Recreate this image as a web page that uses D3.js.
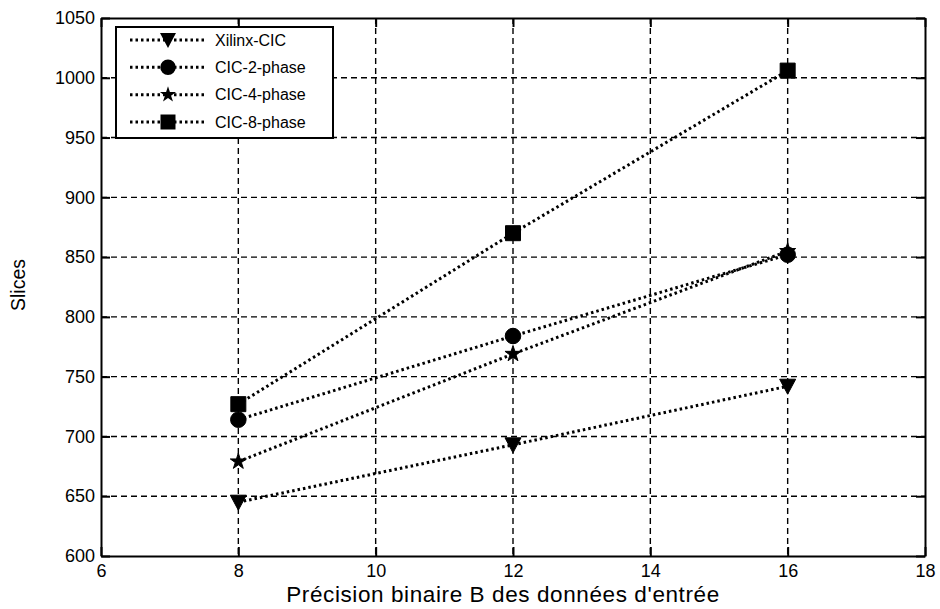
<!DOCTYPE html>
<html>
<head>
<meta charset="utf-8">
<script src="https://cdn.jsdelivr.net/npm/d3@7"></script>
<style>
  html, body { margin: 0; padding: 0; background: #fff; }
  svg { display: block; font-family: "Liberation Sans", Arial, sans-serif; }
</style>
</head>
<body>
<svg id="chart" width="940" height="609"></svg>
<script>
// Input precision B (bits)
const precision = [8, 12, 16];

// Slices used by each implementation
const seriesNames = ["Xilinx-CIC", "CIC-2-phase", "CIC-4-phase", "CIC-8-phase"];
const xilinxCIC = [645, 693, 742];
const cic2phase = [714, 784, 852];
const cic4phase = [679, 769, 855];
const cic8phase = [727, 870, 1006];

// Axis ticks
const xTicks = [6, 8, 10, 12, 14, 16, 18];
const yTicks = [600, 650, 700, 750, 800, 850, 900, 950, 1000, 1050];

const xLabel = "Précision binaire B des données d'entrée";
const yLabel = "Slices";

const series = [
  { name: seriesNames[0], values: xilinxCIC, marker: "triangle" },
  { name: seriesNames[1], values: cic2phase, marker: "circle" },
  { name: seriesNames[2], values: cic4phase, marker: "star" },
  { name: seriesNames[3], values: cic8phase, marker: "square" }
];

const svg = d3.select("#chart");
const L = 101, R = 925, T = 18, B = 556;

const x = d3.scaleLinear().domain([6, 18]).range([L, R]);
const y = d3.scaleLinear().domain([600, 1050]).range([B, T]);

// dashed grid
const grid = svg.append("g").attr("stroke", "#000").attr("stroke-width", 1.4)
  .attr("stroke-dasharray", "6,4");
grid.selectAll(".gx").data(xTicks.slice(1, -1)).join("line")
  .attr("x1", d => x(d)).attr("x2", d => x(d)).attr("y1", T).attr("y2", B);
grid.selectAll(".gy").data(yTicks.slice(1, -1)).join("line")
  .attr("y1", d => y(d)).attr("y2", d => y(d)).attr("x1", L).attr("x2", R);

// axes with inward ticks (box on all four sides)
const tickLen = 9;
const fmt = d3.format("d");
const axB = svg.append("g").attr("transform", `translate(0,${B})`)
  .call(d3.axisBottom(x).tickValues(xTicks).tickFormat(fmt).tickSizeInner(-tickLen).tickSizeOuter(0).tickPadding(8));
const axT = svg.append("g").attr("transform", `translate(0,${T})`)
  .call(d3.axisTop(x).tickValues(xTicks).tickFormat("").tickSizeInner(-tickLen).tickSizeOuter(0));
const axL = svg.append("g").attr("transform", `translate(${L},0)`)
  .call(d3.axisLeft(y).tickValues(yTicks).tickFormat(fmt).tickSizeInner(-tickLen).tickSizeOuter(0).tickPadding(6));
const axR = svg.append("g").attr("transform", `translate(${R},0)`)
  .call(d3.axisRight(y).tickValues(yTicks).tickFormat("").tickSizeInner(-tickLen).tickSizeOuter(0));

[axB, axT, axL, axR].forEach(a => {
  a.select(".domain").attr("stroke", "#000").attr("stroke-width", 2);
  a.selectAll(".tick line").attr("stroke", "#000").attr("stroke-width", 2);
  a.selectAll("text").attr("fill", "#000").attr("font-size", 18)
    .attr("font-family", "'Liberation Sans', Arial, sans-serif");
});

// axis titles
svg.append("text").attr("x", (L + R) / 2 - 10).attr("y", 602)
  .attr("text-anchor", "middle").attr("font-size", 22.5)
  .attr("letter-spacing", "0.6px").text(xLabel);
svg.append("text").attr("transform", `translate(25,${(T + B) / 2 - 2}) rotate(-90)`)
  .attr("text-anchor", "middle").attr("font-size", 19.5).text(yLabel);

// marker shapes
function markerPath(kind) {
  if (kind === "triangle") return "M-8,-7L8,-7L0,8Z";
  if (kind === "circle") return d3.symbol(d3.symbolCircle, 190)();
  if (kind === "star") return d3.symbol(d3.symbolStar, 80)();
  return "M-7.5,-7.5L7.5,-7.5L7.5,7.5L-7.5,7.5Z";
}

const line = d3.line().x((d, i) => x(precision[i])).y(d => y(d));
const plot = svg.append("g");
series.forEach(s => {
  plot.append("path").datum(s.values).attr("d", line)
    .attr("fill", "none").attr("stroke", "#000").attr("stroke-width", 3)
    .attr("stroke-dasharray", "2.5,3");
  plot.selectAll(null).data(s.values).join("path")
    .attr("transform", (d, i) => `translate(${x(precision[i])},${y(d)})`)
    .attr("d", markerPath(s.marker)).attr("fill", "#000").attr("stroke", "#000");
});

// legend
const lg = svg.append("g");
const lgX = 116, lgY = 27, lgW = 217, lgH = 111;
lg.append("rect").attr("x", lgX).attr("y", lgY).attr("width", lgW).attr("height", lgH)
  .attr("fill", "#fff").attr("stroke", "#000").attr("stroke-width", 2);
const rowY = d3.scalePoint().domain(seriesNames).range([40, 122]);
series.forEach(s => {
  const ry = rowY(s.name);
  lg.append("line").attr("x1", 130).attr("x2", 205).attr("y1", ry).attr("y2", ry)
    .attr("stroke", "#000").attr("stroke-width", 3).attr("stroke-dasharray", "2.5,3");
  lg.append("path").attr("transform", `translate(168,${ry})`).attr("d", markerPath(s.marker))
    .attr("fill", "#000");
  lg.append("text").attr("x", 215).attr("y", ry).attr("dy", "0.35em")
    .attr("font-size", 16).text(s.name);
});
</script>
</body>
</html>
